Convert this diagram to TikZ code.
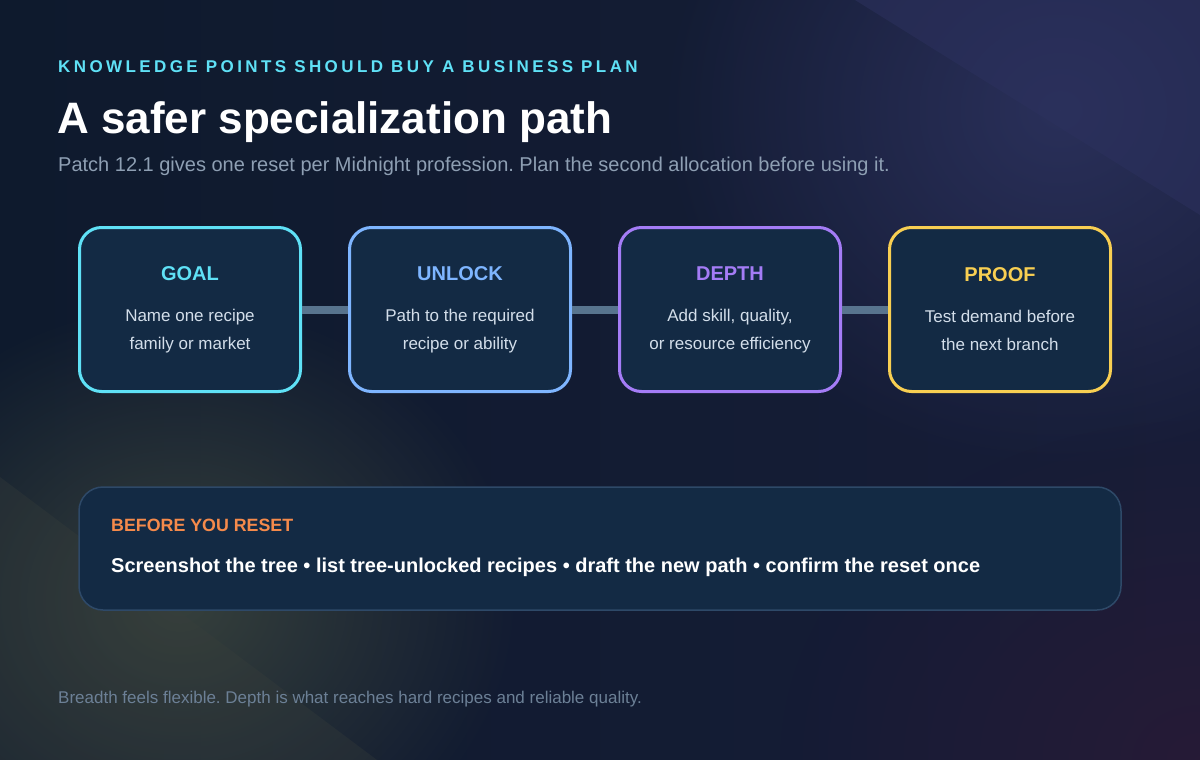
\documentclass[tikz,border=0pt]{standalone}
\usepackage{fontspec}
\setmainfont{Liberation Sans}
\newfontfamily\spacedfont[LetterSpace=20]{Liberation Sans}
\frenchspacing
\usetikzlibrary{positioning, fadings}

\tikzfading[name=softglow, inner color=transparent!0, outer color=transparent!100]

\definecolor{bgleft}{HTML}{0E1A2D}
\definecolor{bgright}{HTML}{171D38}
\definecolor{glowpurple}{HTML}{2A305A}
\definecolor{wedgepurple}{HTML}{2C315E}
\definecolor{glowolive}{HTML}{36403C}
\definecolor{wedgeolive}{HTML}{3A403C}
\definecolor{glowplum}{HTML}{2A1A36}
\definecolor{boxfill}{HTML}{132A44}
\definecolor{goalcyan}{HTML}{5FE1F6}
\definecolor{unlockblue}{HTML}{7EB5FF}
\definecolor{depthpurple}{HTML}{A47CF6}
\definecolor{proofyellow}{HTML}{F8CF52}
\definecolor{linkgrey}{HTML}{58748E}
\definecolor{bodytext}{HTML}{D3DEEA}
\definecolor{subgrey}{HTML}{8E9FB3}
\definecolor{footgrey}{HTML}{6C8096}
\definecolor{resetorange}{HTML}{F58A4B}
\definecolor{panelborder}{HTML}{2E4968}

\begin{document}
\begin{tikzpicture}[x=1pt, y=-1pt, node distance=46pt, font=\fontsize{17}{28}\selectfont]
    \tikzstyle{stage} = [rectangle, rounded corners=22pt, line width=3pt, fill=boxfill, minimum width=221pt, minimum height=164pt, text=bodytext, align=center, inner sep=0pt]
    \tikzstyle{link} = [line width=8pt, draw=linkgrey]
    \tikzstyle{panel} = [rectangle, rounded corners=24pt, line width=1.5pt, draw=panelborder, fill=boxfill, minimum width=1042pt, minimum height=123pt]
    \tikzstyle{caption} = [anchor=base west, inner sep=0pt]

    % Background
    \useasboundingbox (0,0) rectangle (1200,760);
    \shade [left color=bgleft, right color=bgright] (0,0) rectangle (1200,760);
    \fill [glowpurple, opacity=1, path fading=softglow] (1060,110) ellipse (400 and 360);
    \fill [wedgepurple, opacity=0.55] (855,0) -- (1200,0) -- (1200,215) -- cycle;
    \fill [glowolive, opacity=1, path fading=softglow] (180,600) ellipse (340 and 300);
    \fill [wedgeolive, opacity=0.3] (0,477) -- (377,760) -- (0,760) -- cycle;
    \fill [glowplum, opacity=0.8, path fading=softglow] (1200,760) ellipse (420 and 340);

    % Header
    \node [caption, font=\spacedfont\fontsize{17}{20}\selectfont\bfseries, text=goalcyan] (eyebrow) at (58,73) {KNOWLEDGE POINTS SHOULD BUY A BUSINESS PLAN};
    \node [caption, font=\fontsize{44}{50}\selectfont\bfseries, text=white] (title) at (57,133) {A safer specialization path};
    \node [caption, font=\fontsize{20}{24}\selectfont, text=subgrey] (subtitle) at (58,171) {Patch 12.1 gives one reset per Midnight profession. Plan the second allocation before using it.};

    % Steps
    \node [stage, draw=goalcyan] (goal) at (190,309.5) {{\fontsize{20}{28}\selectfont\bfseries\color{goalcyan}GOAL}\\[13pt]Name one recipe\\family or market};
    \node [stage, draw=unlockblue, right=of goal] (unlock) {{\fontsize{20}{28}\selectfont\bfseries\color{unlockblue}UNLOCK}\\[13pt]Path to the required\\recipe or ability};
    \node [stage, draw=depthpurple, right=of unlock] (depth) {{\fontsize{20}{28}\selectfont\bfseries\color{depthpurple}DEPTH}\\[13pt]Add skill, quality,\\or resource efficiency};
    \node [stage, draw=proofyellow, right=of depth] (proof) {{\fontsize{20}{28}\selectfont\bfseries\color{proofyellow}PROOF}\\[13pt]Test demand before\\the next branch};

    % Connections
    \draw [link] (goal) -- (unlock);
    \draw [link] (unlock) -- (depth);
    \draw [link] (depth) -- (proof);

    % Checklist
    \node [panel] (reset) at (600,548.5) {};
    \node [caption, font=\fontsize{17.8}{20}\selectfont\bfseries, text=resetorange] (resethead) at (111,531) {BEFORE YOU RESET};
    \node [caption, font=\fontsize{20}{24}\selectfont\bfseries, text=white] (resetline) at (111,572) {Screenshot the tree \textbullet{} list tree-unlocked recipes \textbullet{} draft the new path \textbullet{} confirm the reset once};

    % Footer
    \node [caption, font=\fontsize{17}{20}\selectfont, text=footgrey] (footer) at (58,703) {Breadth feels flexible. Depth is what reaches hard recipes and reliable quality.};
\end{tikzpicture}
\end{document}
